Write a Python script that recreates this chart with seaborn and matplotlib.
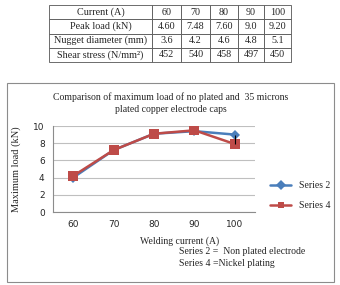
import matplotlib
matplotlib.use('Agg')
import matplotlib.pyplot as plt
import seaborn as sns
import pandas as pd
from matplotlib.patches import Rectangle

# Data
currents = ['60', '70', '80', '90', '100']
table_rows = ['Current (A)', 'Peak load (kN)', 'Nugget diameter (mm)', 'Shear stress (N/mm²)']
peak_load = ['4.60', '7.48', '7.60', '9.0', '9.20']
nugget = ['3.6', '4.2', '4.6', '4.8', '5.1']
shear = ['452', '540', '458', '497', '450']
series2 = [4.0, 7.2, 9.1, 9.4, 9.0]
series4 = [4.2, 7.2, 9.1, 9.5, 7.9]

sns.set_style('white')
plt.rcParams['font.family'] = ['Liberation Serif', 'DejaVu Serif']

fig = plt.figure(figsize=(3.4, 2.85), dpi=100)

# Table at top
ax_t = fig.add_axes([49 / 340, 1 - 62 / 285, 242 / 340, 57 / 285])
ax_t.axis('off')
cells = [[table_rows[0]] + currents,
         [table_rows[1]] + peak_load,
         [table_rows[2]] + nugget,
         [table_rows[3]] + shear]
tbl = ax_t.table(cellText=cells, bbox=[0, 0, 1, 1], cellLoc='center',
                 colWidths=[103, 29, 29, 28, 26, 27])
tbl.auto_set_font_size(False)
tbl.set_fontsize(7.3)
for c in tbl.get_celld().values():
    c.set_edgecolor('#555555')
    c.set_linewidth(0.6)

# Chart frame
fig.patches.append(Rectangle((7 / 340, 3 / 285), 327 / 340, 199 / 285,
                             transform=fig.transFigure, fill=False,
                             edgecolor='#8c8c8c', linewidth=0.8))

fig.text(171 / 340, 1 - 97 / 285, 'Comparison of maximum load of no plated and  35 microns',
         ha='center', va='center', fontsize=7)
fig.text(171 / 340, 1 - 109 / 285, 'plated copper electrode caps',
         ha='center', va='center', fontsize=7)

ax = fig.add_axes([53 / 340, 1 - 212 / 285, 202 / 340, 86 / 285])
df = pd.DataFrame({'x': list(range(len(currents))) * 2,
                   'load': series2 + series4,
                   'series': ['Series 2'] * 5 + ['Series 4'] * 5})
sns.lineplot(data=df, x='x', y='load', hue='series', style='series',
             palette=['#4A7EBB', '#BE4B48'], markers=['D', 's'], dashes=False,
             markersize=5, linewidth=1.8, markeredgewidth=0, ax=ax)
ax.lines[1].set_markersize(7)
ax.vlines(4, series4[4], series2[4], color='black', linewidth=0.8)

ax.set_xlim(-0.5, 4.5)
ax.set_ylim(0, 10)
ax.set_yticks([0, 2, 4, 6, 8, 10])
ax.set_xticks(range(len(currents)))
ax.set_xticklabels(currents)
ax.tick_params(labelsize=6.5, length=0, pad=6)
for lab in ax.get_xticklabels() + ax.get_yticklabels():
    lab.set_family('DejaVu Sans')
ax.yaxis.grid(True, color='#bfbfbf', linewidth=0.8)
ax.set_axisbelow(True)
for s in ['top', 'right']:
    ax.spines[s].set_visible(False)
ax.spines['left'].set_color('#8c8c8c')
ax.spines['bottom'].set_color('#8c8c8c')
ax.spines['left'].set_linewidth(0.8)
ax.spines['bottom'].set_linewidth(0.8)
ax.set_xlabel('')
ax.set_ylabel('Maximum load (kN)', fontsize=7.5, labelpad=9)

leg = ax.legend(loc='center left', bbox_to_anchor=(1.03, 0.19), frameon=False,
                fontsize=7, labelspacing=1.1, handlelength=2.2)

fig.text(180 / 340, 1 - 241 / 285, 'Welding current (A)', ha='center', va='center', fontsize=7)
fig.text(242 / 340, 1 - 252 / 285, 'Series 2 =  Non plated electrode', ha='center', va='center', fontsize=7)
fig.text(227 / 340, 1 - 264 / 285, 'Series 4 =Nickel plating', ha='center', va='center', fontsize=7)

fig.savefig('out.png', dpi=100)
